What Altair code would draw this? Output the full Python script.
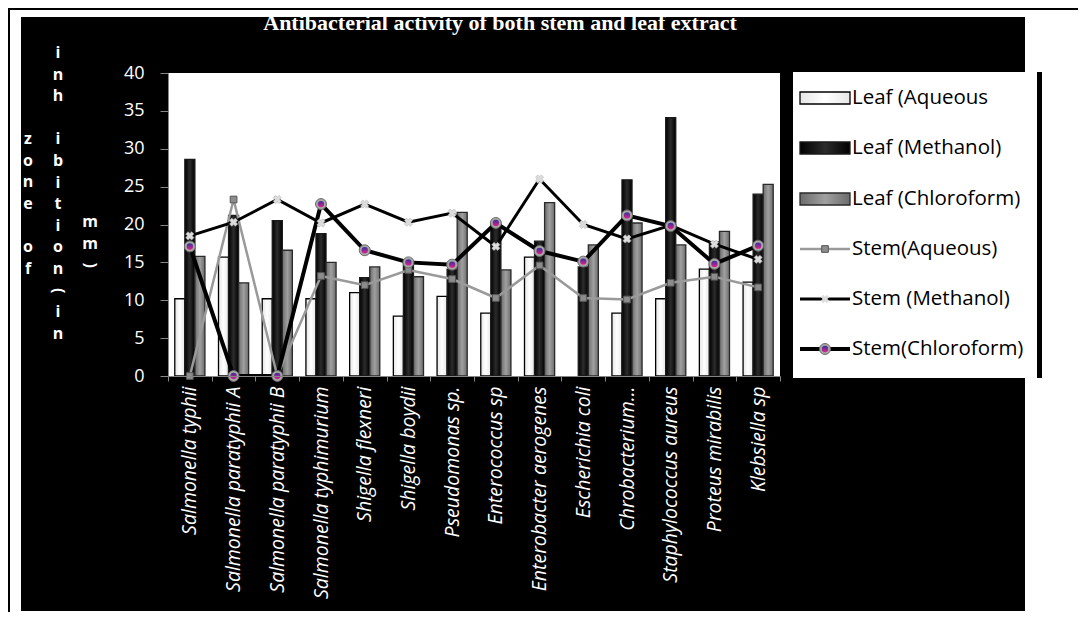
import altair as alt
import pandas as pd

categories = ["Salmonella typhii", "Salmonella paratyphii A", "Salmonella paratyphii B",
              "Salmonella typhimurium", "Shigella flexneri", "Shigella boydii", "Pseudomonas sp.",
              "Enterococcus sp", "Enterobacter aerogenes", "Escherichia coli", "Chrobacterium…",
              "Staphylococcus aureus", "Proteus mirabilis", "Klebsiella sp"]
leaf_aqueous = [10.2, 15.7, 10.2, 10.2, 11.0, 7.9, 10.5, 8.3, 15.7, 0, 8.3, 10.2, 14.1, 12.4]
leaf_methanol = [28.6, 21.2, 20.5, 18.8, 13.0, 15.0, 14.1, 20.0, 17.8, 14.4, 25.9, 34.1, 17.7, 24.0]
leaf_chloroform = [15.8, 12.3, 16.6, 15.0, 14.4, 13.1, 21.6, 14.0, 22.9, 17.3, 20.2, 17.3, 19.1, 25.3]
stem_aqueous = [0, 23.3, 0, 13.2, 12.0, 14.0, 12.8, 10.3, 14.6, 10.3, 10.1, 12.3, 13.1, 11.7]
stem_methanol = [18.5, 20.3, 23.3, 20.2, 22.7, 20.3, 21.5, 17.1, 26.0, 20.0, 18.1, 19.9, 17.4, 15.4]
stem_chloroform = [17.1, 0, 0, 22.7, 16.6, 15.0, 14.7, 20.2, 16.5, 15.1, 21.2, 19.8, 14.8, 17.2]
series_names = ["Leaf (Aqueous", "Leaf (Methanol)", "Leaf (Chloroform)",
                "Stem(Aqueous)", "Stem (Methanol)", "Stem(Chloroform)"]
y_ticks = [0, 5, 10, 15, 20, 25, 30, 35, 40]
title_text = "Antibacterial activity of both stem and leaf extract"
# y-axis title, stacked letter by letter in three columns
ytitle_col1 = ["z", "o", "n", "e", "", "o", "f"]
ytitle_col2 = ["i", "n", "h", "", "i", "b", "i", "t", "i", "o", "n", "(", "i", "n"]
ytitle_col3 = ["m", "m", ")"]

all_values = [leaf_aqueous, leaf_methanol, leaf_chloroform, stem_aqueous, stem_methanol, stem_chloroform]
rows = []
for name, vals in zip(series_names, all_values):
    for c, v in zip(categories, vals):
        rows.append({"category": c, "series": name, "value": v})
df = pd.DataFrame(rows)

W, H = 612, 303
AX = "#868686"
FONT = "Open Sans"

X = alt.X("category:N", sort=categories,
          scale=alt.Scale(domain=categories, paddingInner=0, paddingOuter=0),
          axis=alt.Axis(title=None, labelAngle=270, labelFontStyle="italic", labelFont=FONT,
                        labelFontSize=19.5, labelColor="white", labelPadding=5, labelLimit=400,
                        tickBand="extent", tickSize=5, tickColor=AX, domainColor=AX,
                        domainWidth=1, zindex=1, grid=False))
Y = alt.Y("value:Q", scale=alt.Scale(domain=[0, 40], nice=False),
          axis=alt.Axis(title=None, values=y_ticks, labelFont=FONT, labelFontSize=18,
                        labelColor="white", labelPadding=16, tickSize=8, tickColor=AX,
                        domainColor=AX, zindex=1, grid=False))
XOFF = alt.XOffset("series:N", scale=alt.Scale(domain=series_names[:3], paddingInner=0, paddingOuter=0.675))


def hgrad(c_edge, c_mid):
    return alt.LinearGradient(gradient="linear", x1=0, x2=1, y1=0, y2=0,
                              stops=[alt.GradientStop(color=c_edge, offset=0),
                                     alt.GradientStop(color=c_mid, offset=0.5),
                                     alt.GradientStop(color=c_edge, offset=1)])


fills = [hgrad("#e6e6e6", "#ffffff"), hgrad("#000000", "#2c2c2c"), hgrad("#6c6c6c", "#a0a0a0")]
strokes = ["#000000", "#1a1a1a", "#2a2a2a"]
purple = alt.LinearGradient(gradient="linear", x1=0, x2=0, y1=0, y2=1,
                            stops=[alt.GradientStop(color="#35309a", offset=0),
                                   alt.GradientStop(color="#e0208c", offset=1)])

one = pd.DataFrame({"d": [0]})


def rect(x1, x2, y1, y2, fill, **kw):
    return alt.Chart(one).mark_rect(fill=fill, **kw).encode(
        x=alt.value(x1), x2=alt.value(x2), y=alt.value(y1), y2=alt.value(y2))


def text(t, x, y, **kw):
    return alt.Chart(one).mark_text(text=t, **kw).encode(x=alt.value(x), y=alt.value(y))


layers = []
# frame and backgrounds
layers.append(rect(-160, 910, -65, -63, "black"))
layers.append(rect(-160, -158, -65, 539, "black"))
layers.append(rect(-147, 857, -56, 538, "black"))
layers.append(rect(0, W, 0, H, "white"))
layers.append(rect(625, 874, -1, 305, "black"))
layers.append(rect(625, 869, -1, 305, "white"))

# bars
for i in range(3):
    layers.append(
        alt.Chart(df).transform_filter(alt.datum.series == series_names[i])
        .transform_filter(alt.datum.value > 0)
        .mark_bar(fill=fills[i], stroke=strokes[i], strokeWidth=1.3)
        .encode(x=X, xOffset=XOFF, y=Y)
    )

# lines
line_styles = [("#9a9a9a", 2.5), ("#000000", 3), ("#000000", 4)]
for i in range(3):
    col, sw = line_styles[i]
    layers.append(
        alt.Chart(df).transform_filter(alt.datum.series == series_names[3 + i])
        .mark_line(color=col, strokeWidth=sw).encode(x=X, y=Y)
    )

# markers
layers.append(alt.Chart(df).transform_filter(alt.datum.series == series_names[3])
              .mark_point(shape="square", size=45, filled=True, fill="#8c8c8c", stroke="#555555",
                          strokeWidth=1, opacity=1).encode(x=X, y=Y))
layers.append(alt.Chart(df).transform_filter(alt.datum.series == series_names[4])
              .mark_point(shape="cross", angle=45, size=70, filled=True, fill="#dcdcdc",
                          stroke="#b0b0b0", strokeWidth=0.5, opacity=1).encode(x=X, y=Y))
layers.append(alt.Chart(df).transform_filter(alt.datum.series == series_names[5])
              .mark_point(shape="circle", size=120, filled=True, fill="#a8a8a8", stroke="#6a6a6a",
                          strokeWidth=1, opacity=1).encode(x=X, y=Y))
layers.append(alt.Chart(df).transform_filter(alt.datum.series == series_names[5])
              .mark_point(shape="circle", size=40, filled=True, fill=purple, opacity=1)
              .encode(x=X, y=Y))

# legend
rows_y = [25, 75, 126, 176, 226, 276]
sx1, sx2, sxc, tx = 632, 682, 657, 684
for i in range(3):
    layers.append(rect(sx1, sx2, rows_y[i] - 6, rows_y[i] + 6, fills[i], stroke=strokes[i], strokeWidth=1.3))
for i in range(3):
    col, sw = line_styles[i]
    layers.append(alt.Chart(one).mark_rule(color=col, strokeWidth=sw).encode(
        x=alt.value(sx1), x2=alt.value(sx2), y=alt.value(rows_y[3 + i])))
layers.append(alt.Chart(one).mark_point(shape="square", size=45, filled=True, fill="#8c8c8c",
                                        stroke="#555555", strokeWidth=1, opacity=1)
              .encode(x=alt.value(sxc), y=alt.value(rows_y[3])))
layers.append(alt.Chart(one).mark_point(shape="cross", angle=45, size=70, filled=True, fill="#dcdcdc",
                                        opacity=1).encode(x=alt.value(sxc), y=alt.value(rows_y[4])))
layers.append(alt.Chart(one).mark_point(shape="circle", size=120, filled=True, fill="#a8a8a8",
                                        stroke="#6a6a6a", strokeWidth=1, opacity=1)
              .encode(x=alt.value(sxc), y=alt.value(rows_y[5])))
layers.append(alt.Chart(one).mark_point(shape="circle", size=40, filled=True, fill=purple, opacity=1)
              .encode(x=alt.value(sxc), y=alt.value(rows_y[5])))
for i in range(6):
    layers.append(text(series_names[i], tx, rows_y[i], align="left", baseline="middle",
                       font=FONT, fontSize=20.5, color="black"))

# title
layers.append(text(title_text, 332, -43, align="center", baseline="alphabetic",
                   font="Liberation Serif", fontWeight="bold", fontSize=22, color="white"))

# stacked y-axis title letters, one text mark per letter
STEP = 21.6
for chars, cx, y0 in [(ytitle_col1, -140, 66), (ytitle_col2, -110, -20), (ytitle_col3, -78, 149)]:
    for k, ch in enumerate(chars):
        if not ch:
            continue
        extra = dict(angle=90) if ch in "()" else {}
        layers.append(text(ch, cx, y0 + k * STEP, font=FONT, fontWeight="bold", fontSize=16,
                           color="white", align="center", baseline="middle", **extra))

chart = alt.layer(*layers).properties(
    width=W, height=H, background="white",
    autosize=alt.AutoSizeParams(type="none"),
    padding={"left": 160, "top": 65, "right": 298, "bottom": 236},
).configure_view(strokeWidth=0)

chart.save("out.html", embed_options={"renderer": "svg", "actions": False})
